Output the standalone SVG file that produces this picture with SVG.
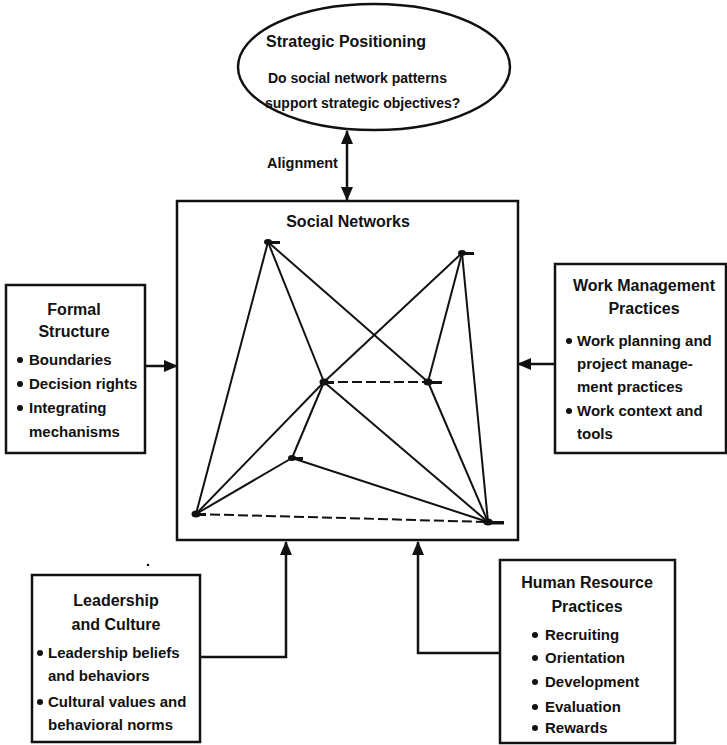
<svg xmlns="http://www.w3.org/2000/svg" width="727" height="745" viewBox="0 0 727 745">
<style>
.t{font-family:"Liberation Sans",Arial,sans-serif;font-weight:bold;fill:#111}
.h{font-size:16px;text-anchor:middle}
.b{font-size:15px}
.box{fill:#fff;stroke:#111;stroke-width:2.5}
.edge{stroke:#111;stroke-width:2;fill:none}
.dash{stroke-dasharray:10 4}
.conn{stroke:#111;stroke-width:2.5;fill:none}
.node{fill:#111}
</style>
<defs>
<marker id="ah" markerUnits="userSpaceOnUse" markerWidth="14" markerHeight="12" refX="13" refY="6" orient="auto-start-reverse">
<path d="M0,0 L14,6 L0,12 Z" fill="#111"/>
</marker>
</defs>

<g id="strategic">
<ellipse cx="374" cy="67" rx="136" ry="63" class="box"/>
<text class="t" x="266" y="47" style="font-size:16px">Strategic Positioning</text>
<text class="t" x="268" y="83" style="font-size:14px">Do social network patterns</text>
<text class="t" x="265" y="108" style="font-size:14px">support strategic objectives?</text>
</g>

<g id="social-networks">
<rect x="177" y="201" width="341" height="339" class="box"/>
<text class="t h" x="348" y="227">Social Networks</text>
<g id="network-edges">
<line class="edge" x1="268" y1="242" x2="196" y2="514"/>
<line class="edge" x1="268" y1="242" x2="324" y2="382"/>
<line class="edge" x1="268" y1="242" x2="428" y2="382"/>
<line class="edge" x1="462" y1="253" x2="324" y2="382"/>
<line class="edge" x1="462" y1="253" x2="428" y2="382"/>
<line class="edge" x1="462" y1="253" x2="488" y2="522"/>
<line class="edge dash" x1="324" y1="382" x2="428" y2="382"/>
<line class="edge" x1="324" y1="382" x2="196" y2="514"/>
<line class="edge" x1="324" y1="382" x2="292" y2="458"/>
<line class="edge" x1="324" y1="382" x2="488" y2="522"/>
<line class="edge" x1="428" y1="382" x2="488" y2="522"/>
<line class="edge" x1="292" y1="458" x2="196" y2="514"/>
<line class="edge" x1="292" y1="458" x2="488" y2="522"/>
<line class="edge dash" x1="196" y1="514" x2="488" y2="522"/>
</g>
<g id="network-nodes">
<g id="nA"><ellipse class="node" cx="268" cy="242" rx="4" ry="3"/><rect class="node" x="270" y="241" width="10" height="3"/></g>
<g id="nB"><ellipse class="node" cx="462" cy="253" rx="4" ry="3"/><rect class="node" x="464" y="252" width="10" height="3"/></g>
<g id="nC"><ellipse class="node" cx="324" cy="382" rx="4.5" ry="3.5"/><rect class="node" x="326" y="381" width="8" height="3"/></g>
<g id="nD"><ellipse class="node" cx="428" cy="382" rx="4.5" ry="3.5"/><rect class="node" x="430" y="381" width="12" height="3"/></g>
<g id="nE"><ellipse class="node" cx="292" cy="458" rx="4" ry="3"/><rect class="node" x="294" y="457" width="9" height="3"/></g>
<g id="nF"><ellipse class="node" cx="196" cy="514" rx="4.5" ry="3.5"/><rect class="node" x="198" y="513" width="8" height="3"/></g>
<g id="nG"><ellipse class="node" cx="488" cy="522" rx="5" ry="3.5"/><rect class="node" x="490" y="521" width="14" height="3.5"/></g>
</g>
</g>

<g id="formal-structure">
<rect x="6" y="285" width="139" height="168" class="box"/>
<text class="t h" x="74" y="315">Formal</text>
<text class="t h" x="74" y="337">Structure</text>
<circle cx="20" cy="360" r="3" class="node"/>
<text class="t b" x="29" y="365">Boundaries</text>
<circle cx="20" cy="384" r="3" class="node"/>
<text class="t b" x="29" y="389">Decision rights</text>
<circle cx="20" cy="408" r="3" class="node"/>
<text class="t b" x="29" y="413">Integrating</text>
<text class="t b" x="29" y="437">mechanisms</text>
</g>

<g id="work-management">
<rect x="555" y="264" width="171" height="189" class="box"/>
<text class="t h" x="644" y="291">Work Management</text>
<text class="t h" x="644" y="314">Practices</text>
<circle cx="569" cy="341" r="3" class="node"/>
<text class="t b" x="577" y="346">Work planning and</text>
<text class="t b" x="577" y="369">project manage-</text>
<text class="t b" x="577" y="392">ment practices</text>
<circle cx="569" cy="411" r="3" class="node"/>
<text class="t b" x="577" y="416">Work context and</text>
<text class="t b" x="577" y="439">tools</text>
</g>

<g id="leadership-culture">
<rect x="32" y="575" width="168" height="167" class="box"/>
<text class="t h" x="116" y="606">Leadership</text>
<text class="t h" x="116" y="630">and Culture</text>
<circle cx="40" cy="653" r="3" class="node"/>
<text class="t b" x="48" y="658">Leadership beliefs</text>
<text class="t b" x="48" y="681">and behaviors</text>
<circle cx="40" cy="702" r="3" class="node"/>
<text class="t b" x="48" y="707">Cultural values and</text>
<text class="t b" x="48" y="730">behavioral norms</text>
</g>

<g id="hr-practices">
<rect x="500" y="560" width="175" height="183" class="box"/>
<text class="t h" x="587" y="588">Human Resource</text>
<text class="t h" x="587" y="612">Practices</text>
<circle cx="535" cy="635" r="3" class="node"/>
<text class="t b" x="545" y="640">Recruiting</text>
<circle cx="535" cy="658" r="3" class="node"/>
<text class="t b" x="545" y="663">Orientation</text>
<circle cx="535" cy="682" r="3" class="node"/>
<text class="t b" x="545" y="687">Development</text>
<circle cx="535" cy="707" r="3" class="node"/>
<text class="t b" x="545" y="712">Evaluation</text>
<circle cx="535" cy="728" r="3" class="node"/>
<text class="t b" x="545" y="733">Rewards</text>
</g>

<g id="connectors">
<line class="conn" x1="347" y1="131" x2="347" y2="200" marker-start="url(#ah)" marker-end="url(#ah)"/>
<text class="t" x="267" y="168" style="font-size:14.5px">Alignment</text>
<line class="conn" x1="145" y1="366" x2="177" y2="366" marker-end="url(#ah)"/>
<line class="conn" x1="555" y1="364" x2="518" y2="364" marker-end="url(#ah)"/>
<polyline class="conn" points="200,657 286,657 286,542" marker-end="url(#ah)"/>
<polyline class="conn" points="500,653 418,653 418,542" marker-end="url(#ah)"/>
</g>
<circle cx="148" cy="565" r="1.3" fill="#111"/>
</svg>
